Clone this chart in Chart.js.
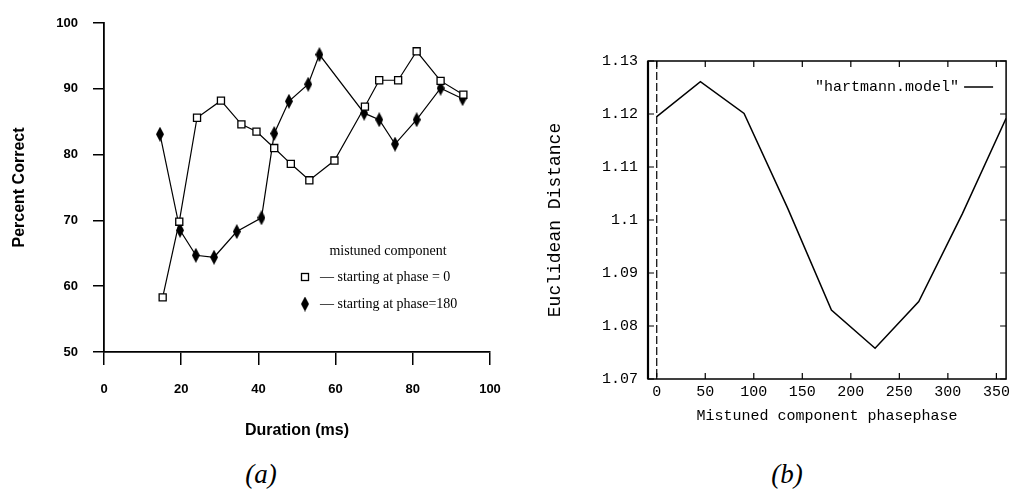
<!DOCTYPE html>
<html>
<head>
<meta charset="utf-8">
<script src="https://cdn.jsdelivr.net/npm/chart.js@4.4.1/dist/chart.umd.min.js"></script>
<style>
  html, body { margin: 0; padding: 0; background: #fff; }
  #wrap { position: relative; width: 1014px; height: 490px; overflow: hidden; background: #fff; }
  canvas { position: absolute; top: 0; }
  #chartA { left: 0; }
  #chartB { left: 520px; }
  .cap { position: absolute; font-family: 'Liberation Serif', serif; font-style: italic; font-size: 27px; color: #000; transform: translate(-50%, -50%); }
</style>
</head>
<body>
<div id="wrap">
  <canvas id="chartA" width="520" height="445"></canvas>
  <canvas id="chartB" width="494" height="445"></canvas>
  <div class="cap" style="left:261px; top:474px">(a)</div>
  <div class="cap" style="left:787px; top:474px">(b)</div>
</div>
<script>
// (a) percent correct against duration, two starting phases
const durPhase0 = [15.2, 19.5, 24.1, 30.3, 35.6, 39.5, 44.1, 48.4, 53.2, 59.7, 67.6, 71.3, 76.2, 81.0, 87.2, 93.1];
const pctPhase0 = [58.3, 69.8, 85.6, 88.2, 84.6, 83.5, 81.0, 78.6, 76.1, 79.1, 87.3, 91.3, 91.3, 95.7, 91.2, 89.1];
const durPhase180 = [14.5, 19.7, 23.8, 28.5, 34.4, 40.8, 44.1, 47.9, 52.9, 55.8, 67.4, 71.3, 75.4, 81.0, 87.2, 92.9];
const pctPhase180 = [83.1, 68.5, 64.7, 64.4, 68.3, 70.4, 83.2, 88.1, 90.7, 95.2, 86.3, 85.3, 81.6, 85.3, 90.1, 88.5];
const xTicksA = [0, 20, 40, 60, 80, 100];
const yTicksA = [50, 60, 70, 80, 90, 100];

// (b) model distance against phase
const phaseB = [0, 45, 90, 135, 180, 225, 270, 315, 360];
const distB = [1.1195, 1.1261, 1.1201, 1.1022, 1.0830, 1.0758, 1.0846, 1.1012, 1.1192];
const xTicksB = [0, 50, 100, 150, 200, 250, 300, 350];
const yTicksB = [1.07, 1.08, 1.09, 1.1, 1.11, 1.12, 1.13];

Chart.defaults.color = '#000';
Chart.defaults.animation = false;

function toPoints(xs, ys) {
    return xs.map((x, i) => ({ x: x, y: ys[i] }));
}

// tall black diamond marker
function makeDiamond() {
    const c = document.createElement('canvas');
    c.width = 8;
    c.height = 15;
    const g = c.getContext('2d');
    g.fillStyle = '#000';
    g.beginPath();
    g.moveTo(4, 0);
    g.lineTo(8, 7.5);
    g.lineTo(4, 15);
    g.lineTo(0, 7.5);
    g.closePath();
    g.fill();
    return c;
}
const diamond = makeDiamond();

const sansBold = (size) => ({ family: 'Liberation Sans', weight: 'bold', size: size });
const mono = (size) => ({ family: 'Liberation Mono', size: size });

const legendA = {
    id: 'legendA',
    afterDatasetsDraw(chart) {
        const ctx = chart.ctx;
        ctx.save();
        ctx.fillStyle = '#000';
        ctx.font = '14px "Liberation Serif"';
        ctx.textBaseline = 'middle';
        ctx.textAlign = 'center';
        ctx.fillText('mistuned component', 388, 251);
        ctx.textAlign = 'left';
        chart.data.datasets.forEach((ds, i) => {
            const y = 277 + i * 27;
            if (ds.pointStyle === 'rect') {
                ctx.fillStyle = '#fff';
                ctx.fillRect(301.5, y - 3.5, 7, 7);
                ctx.strokeStyle = '#000';
                ctx.lineWidth = 1.3;
                ctx.strokeRect(301.5, y - 3.5, 7, 7);
            } else {
                ctx.drawImage(ds.pointStyle, 305 - ds.pointStyle.width / 2, y - ds.pointStyle.height / 2);
            }
            ctx.fillStyle = '#000';
            ctx.fillText('\u2014 ' + ds.label, 320, y);
        });
        ctx.restore();
    }
};

new Chart(document.getElementById('chartA'), {
    type: 'line',
    data: {
        datasets: [
            {
                label: 'starting at phase = 0',
                data: toPoints(durPhase0, pctPhase0),
                borderColor: '#000',
                borderWidth: 1.2,
                pointStyle: 'rect',
                pointRadius: 5,
                pointBackgroundColor: '#fff',
                pointBorderColor: '#000',
                pointBorderWidth: 1.3,
                tension: 0,
                fill: false
            },
            {
                label: 'starting at phase=180',
                data: toPoints(durPhase180, pctPhase180),
                borderColor: '#000',
                borderWidth: 1.2,
                pointStyle: diamond,
                pointRadius: 5,
                tension: 0,
                fill: false
            }
        ]
    },
    options: {
        responsive: false,
        devicePixelRatio: 1,
        layout: { padding: { top: 23, right: 30, left: 0, bottom: 0 } },
        plugins: { legend: { display: false }, tooltip: { enabled: false } },
        scales: {
            x: {
                type: 'linear',
                min: 0,
                max: 100,
                afterBuildTicks: (s) => { s.ticks = xTicksA.map(v => ({ value: v })); },
                afterFit: (s) => { s.height = 93; },
                grid: { display: true, drawOnChartArea: false, drawTicks: true, tickLength: 13, color: '#000', lineWidth: 1.5 },
                border: { display: true, color: '#000', width: 1.8 },
                ticks: { padding: 17, font: sansBold(13), color: '#000', maxRotation: 0 },
                title: { display: true, text: 'Duration (ms)', font: sansBold(16), color: '#000', padding: { top: 0, bottom: 5 } }
            },
            y: {
                type: 'linear',
                min: 50,
                max: 100,
                afterBuildTicks: (s) => { s.ticks = yTicksA.map(v => ({ value: v })); },
                afterFit: (s) => { s.width = 104; },
                grid: { display: true, drawOnChartArea: false, drawTicks: true, tickLength: 11, color: '#000', lineWidth: 1.5 },
                border: { display: true, color: '#000', width: 1.8 },
                ticks: { padding: 15, font: sansBold(13), color: '#000' },
                title: { display: true, text: 'Percent Correct', font: sansBold(16), color: '#000', padding: { top: 10, bottom: 0 } }
            }
        }
    },
    plugins: [legendA]
});

// gnuplot style box: border, inward tics, dashed zero axis, key top right
const frameB = {
    id: 'frameB',
    afterDatasetsDraw(chart) {
        const { ctx, chartArea: a, scales: { x, y } } = chart;
        ctx.save();
        ctx.strokeStyle = '#000';
        ctx.lineWidth = 1.5;
        ctx.strokeRect(a.left, a.top, a.right - a.left, a.bottom - a.top);
        ctx.lineWidth = 2.2;
        ctx.beginPath();
        ctx.moveTo(a.left, a.top);
        ctx.lineTo(a.left, a.bottom);
        ctx.stroke();

        ctx.lineWidth = 1.2;
        ctx.beginPath();
        x.ticks.forEach(t => {
            const px = x.getPixelForValue(t.value);
            ctx.moveTo(px, a.bottom);
            ctx.lineTo(px, a.bottom - 6);
            ctx.moveTo(px, a.top);
            ctx.lineTo(px, a.top + 6);
        });
        y.ticks.forEach(t => {
            const py = y.getPixelForValue(t.value);
            ctx.moveTo(a.left, py);
            ctx.lineTo(a.left + 6, py);
            ctx.moveTo(a.right, py);
            ctx.lineTo(a.right - 6, py);
        });
        ctx.stroke();

        ctx.setLineDash([8, 3]);
        const x0 = x.getPixelForValue(0);
        ctx.beginPath();
        ctx.moveTo(x0, a.top);
        ctx.lineTo(x0, a.bottom);
        ctx.stroke();
        ctx.setLineDash([]);

        const ds = chart.data.datasets[0];
        ctx.font = '15px "Liberation Mono"';
        ctx.fillStyle = '#000';
        ctx.textAlign = 'right';
        ctx.textBaseline = 'middle';
        ctx.fillText(ds.label, a.right - 47, a.top + 26);
        ctx.lineWidth = ds.borderWidth;
        ctx.beginPath();
        ctx.moveTo(a.right - 42, a.top + 26);
        ctx.lineTo(a.right - 13, a.top + 26);
        ctx.stroke();
        ctx.restore();
    }
};

new Chart(document.getElementById('chartB'), {
    type: 'line',
    data: {
        datasets: [
            {
                label: '"hartmann.model"',
                data: toPoints(phaseB, distB),
                borderColor: '#000',
                borderWidth: 1.5,
                pointRadius: 0,
                tension: 0,
                fill: false
            }
        ]
    },
    options: {
        responsive: false,
        devicePixelRatio: 1,
        layout: { padding: { top: 61, right: 4, left: 0, bottom: 0 } },
        plugins: { legend: { display: false }, tooltip: { enabled: false } },
        scales: {
            x: {
                type: 'linear',
                min: -9,
                max: 360,
                afterBuildTicks: (s) => { s.ticks = xTicksB.map(v => ({ value: v })); },
                afterFit: (s) => { s.height = 66; },
                grid: { display: false, drawTicks: false, tickLength: 0 },
                border: { display: false },
                ticks: { padding: 4, font: mono(15), color: '#000', maxRotation: 0 },
                title: { display: true, text: 'Mistuned component phasephase', font: mono(15), color: '#000', padding: { top: 0, bottom: 20 } }
            },
            y: {
                type: 'linear',
                min: 1.07,
                max: 1.13,
                afterBuildTicks: (s) => { s.ticks = yTicksB.map(v => ({ value: v })); },
                afterFit: (s) => { s.width = 128; },
                grid: { display: false, drawTicks: false, tickLength: 0 },
                border: { display: false },
                ticks: { padding: 10, font: mono(15), color: '#000', callback: (v) => String(+v.toFixed(2)) },
                title: { display: true, text: 'Euclidean Distance', font: mono(18), color: '#000', padding: { top: 24, bottom: 0 } }
            }
        }
    },
    plugins: [frameB]
});
</script>
</body>
</html>
